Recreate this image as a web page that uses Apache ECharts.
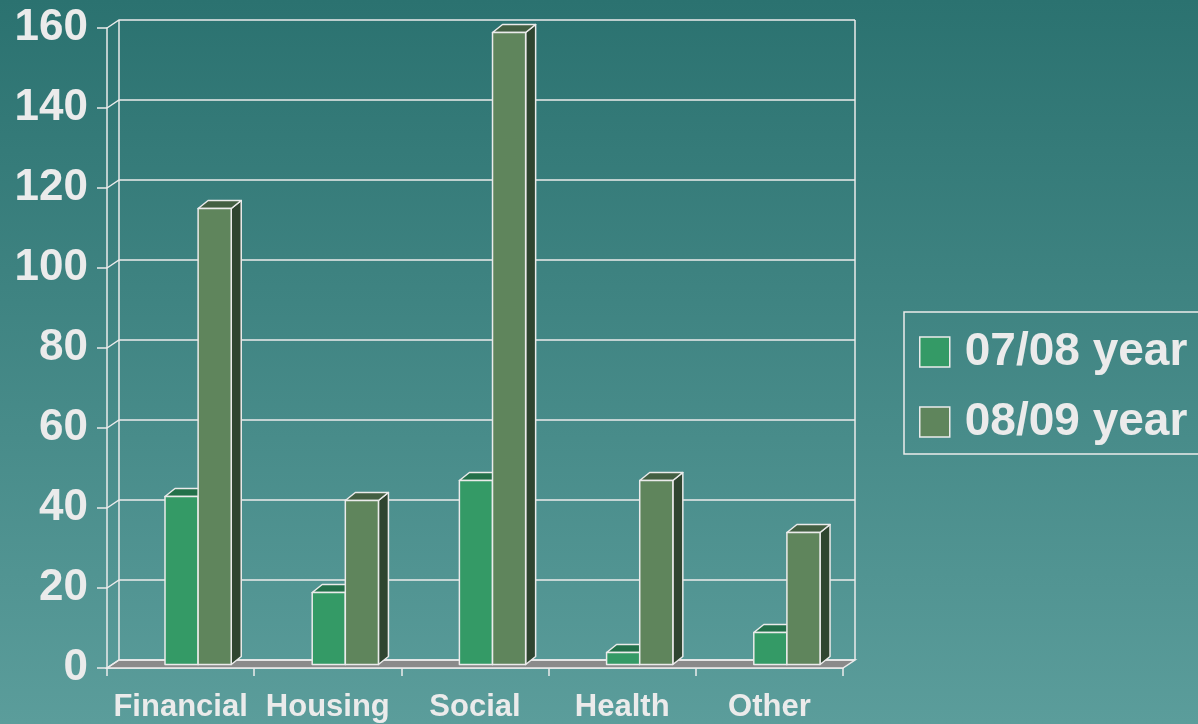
<!DOCTYPE html>
<html>
<head>
<meta charset="utf-8">
<script src="https://cdn.jsdelivr.net/npm/echarts@6/dist/echarts.min.js"></script>
<style>
  html, body { margin: 0; padding: 0; }
  #chart { width: 1198px; height: 724px; }
</style>
</head>
<body>
<div id="chart"></div>
<script>
  // data
  var categories = ['Financial', 'Housing', 'Social', 'Health', 'Other'];
  var year0708 = [42, 18, 46, 3, 8];
  var year0809 = [114, 41, 158, 46, 33];
  var yTicks = [0, 20, 40, 60, 80, 100, 120, 140, 160];

  var white = '#ebebeb';
  var depthX = 12, depthY = 8;   // back wall offset
  var barDX = 10, barDY = 8;     // bar depth

  // floor, back wall and side gridlines
  function renderFrame(params, api) {
    var cs = params.coordSys;
    var v = api.value(1);
    var p = api.coord([0, v]);
    var y = p[1];
    var left = cs.x, right = cs.x + cs.width;
    var kids = [];
    if (v === 0) {
      kids.push({
        type: 'polygon',
        shape: { points: [[left, y], [right, y], [right + depthX, y - depthY], [left + depthX, y - depthY]] },
        style: { fill: '#8a8a8a', stroke: white, lineWidth: 1.5 }
      });
    }
    kids.push({
      type: 'polyline',
      shape: { points: [[left, y], [left + depthX, y - depthY], [right + depthX, y - depthY]] },
      style: { fill: null, stroke: white, lineWidth: 1.5 }
    });
    if (v === yTicks[yTicks.length - 1]) {
      var yb = api.coord([0, 0])[1];
      kids.push({
        type: 'line',
        shape: { x1: left + depthX, y1: y - depthY, x2: left + depthX, y2: yb - depthY },
        style: { stroke: white, lineWidth: 1.5 }
      });
      kids.push({
        type: 'line',
        shape: { x1: right + depthX, y1: y - depthY, x2: right + depthX, y2: yb - depthY },
        style: { stroke: white, lineWidth: 1.5 }
      });
    }
    return { type: 'group', children: kids };
  }

  function barRenderer(slot, front, top, side) {
    return function (params, api) {
      var band = api.size([1, 0])[0];
      var w = band * 0.225;
      var c = api.coord([api.value(0), api.value(1)]);
      var b = api.coord([api.value(0), 0]);
      var x0 = c[0] - band * 0.106 + slot * w;
      var x1 = x0 + w;
      var yt = c[1] - 3.5;
      var yb = b[1] - 3.5;
      var st = { stroke: white, lineWidth: 1.5, lineJoin: 'round' };
      return {
        type: 'group',
        children: [
          {
            type: 'polygon',
            shape: { points: [[x1, yt], [x1 + barDX, yt - barDY], [x1 + barDX, yb - barDY], [x1, yb]] },
            style: Object.assign({ fill: side }, st)
          },
          {
            type: 'polygon',
            shape: { points: [[x0, yt], [x1, yt], [x1 + barDX, yt - barDY], [x0 + barDX, yt - barDY]] },
            style: Object.assign({ fill: top }, st)
          },
          {
            type: 'rect',
            shape: { x: x0, y: yt, width: w, height: yb - yt },
            style: Object.assign({ fill: front }, st)
          }
        ]
      };
    };
  }

  var chart = echarts.init(document.getElementById('chart'));
  chart.setOption({
    backgroundColor: new echarts.graphic.LinearGradient(0, 0, 0, 1, [
      { offset: 0, color: '#2b7270' },
      { offset: 1, color: '#5b9d9b' }
    ]),
    animation: false,
    textStyle: { fontFamily: 'Liberation Sans, Arial, sans-serif' },
    grid: { left: 107, top: 28, width: 736, height: 640 },
    legend: {
      orient: 'vertical',
      left: 904,
      top: 312,
      padding: [17, 20, 9, 15],
      itemGap: 24,
      itemWidth: 30,
      itemHeight: 30,
      icon: 'rect',
      borderColor: white,
      borderWidth: 1.5,
      itemStyle: { borderColor: white, borderWidth: 1.5 },
      textStyle: { color: white, fontSize: 46, fontWeight: 'bold', padding: [0, 0, 0, 10] },
      data: ['07/08 year', '08/09 year']
    },
    xAxis: {
      type: 'category',
      data: categories,
      axisLine: { lineStyle: { color: white, width: 1.5 } },
      axisTick: { show: true, length: 8, lineStyle: { color: white, width: 1.5 } },
      axisLabel: { color: white, fontSize: 31, fontWeight: 'bold', margin: 24, interval: 0 },
      splitLine: { show: false }
    },
    yAxis: {
      type: 'value',
      min: 0,
      max: 160,
      interval: 20,
      axisLine: { show: true, lineStyle: { color: white, width: 1.5 } },
      axisTick: { show: true, length: 10, lineStyle: { color: white, width: 1.5 } },
      axisLabel: { color: white, fontSize: 44, fontWeight: 'bold', margin: 19 },
      splitLine: { show: false }
    },
    series: [
      {
        type: 'custom',
        name: 'frame',
        silent: true,
        z: 1,
        renderItem: renderFrame,
        data: yTicks.map(function (v) { return [0, v]; })
      },
      {
        type: 'custom',
        name: '07/08 year',
        z: 2,
        itemStyle: { color: '#349a66' },
        renderItem: barRenderer(0, '#349a66', '#23704a', '#1f5a3c'),
        data: year0708.map(function (v, i) { return [i, v]; })
      },
      {
        type: 'custom',
        name: '08/09 year',
        z: 3,
        itemStyle: { color: '#5f855c' },
        renderItem: barRenderer(1, '#5f855c', '#435f42', '#2f4530'),
        data: year0809.map(function (v, i) { return [i, v]; })
      }
    ]
  });
</script>
</body>
</html>
